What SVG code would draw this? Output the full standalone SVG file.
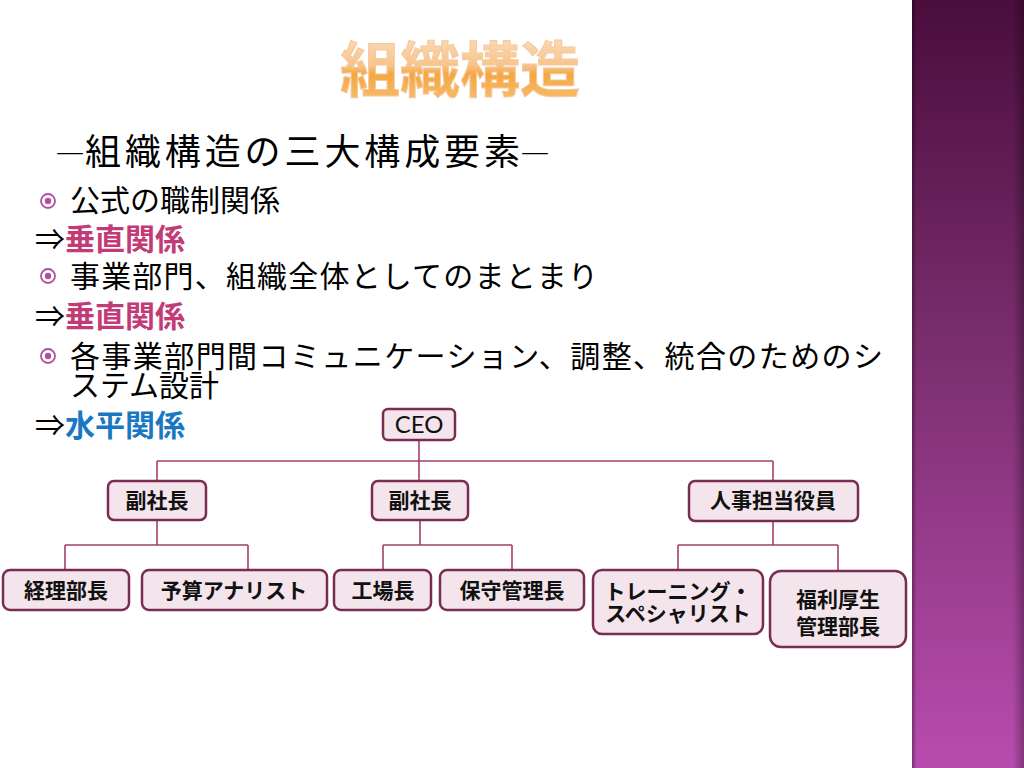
<svg xmlns="http://www.w3.org/2000/svg" width="1024" height="768" viewBox="0 0 1024 768">
<defs>
<linearGradient id="bar" x1="0" y1="0" x2="0" y2="1">
<stop offset="0" stop-color="#4a0d3c"/>
<stop offset="0.45" stop-color="#7a2e6e"/>
<stop offset="1" stop-color="#b84cae"/>
</linearGradient>
<linearGradient id="barEdge" x1="0" y1="0" x2="1" y2="0">
<stop offset="0" stop-color="#000" stop-opacity="0.35"/>
<stop offset="0.04" stop-color="#000" stop-opacity="0"/>
<stop offset="0.9" stop-color="#000" stop-opacity="0"/>
<stop offset="1" stop-color="#000" stop-opacity="0.3"/>
</linearGradient>
<linearGradient id="title" x1="0" y1="0" x2="0" y2="1">
<stop offset="0" stop-color="#fde6cf"/>
<stop offset="0.5" stop-color="#f8c48a"/>
<stop offset="0.6" stop-color="#f5a740"/>
<stop offset="1" stop-color="#f7c27c"/>
</linearGradient>
<style>
.jp{font-family:"Noto Sans CJK JP","Noto Sans",sans-serif;}
.body{font-size:30px;fill:#000;}
.em{font-size:30px;font-weight:bold;}
.box{fill:#f3e5eb;stroke:#7b2c52;stroke-width:2.5;}
.lbl{font-family:"Noto Sans CJK JP",sans-serif;font-size:21px;font-weight:bold;fill:#111;text-anchor:middle;}
.conn{fill:none;stroke:#a3416c;stroke-width:1.6;}
.bul{fill:none;stroke:#b34f9e;stroke-width:1.8;}
.bdot{fill:#b34f9e;}
</style>
</defs>
<rect width="1024" height="768" fill="#fff"/>
<g id="sidebar">
<rect x="912" y="0" width="112" height="768" fill="url(#bar)"/>
<rect x="912" y="0" width="112" height="768" fill="url(#barEdge)"/>
</g>
<text x="460" y="92" class="jp" font-size="60" font-weight="bold" text-anchor="middle" fill="url(#title)" stroke="#f3c9a0" stroke-width="1">組織構造</text>
<text y="165" class="jp" font-size="36" fill="#000"><tspan x="55" font-size="30">―</tspan><tspan x="85" textLength="435" lengthAdjust="spacing">組織構造の三大構成要素</tspan><tspan x="520" font-size="30">―</tspan></text>
<g id="bullets">
<circle cx="48" cy="201" r="7" class="bul"/><circle cx="48" cy="201" r="3.2" class="bdot"/>
<circle cx="48" cy="276" r="7" class="bul"/><circle cx="48" cy="276" r="3.2" class="bdot"/>
<circle cx="48" cy="356" r="7" class="bul"/><circle cx="48" cy="356" r="3.2" class="bdot"/>
</g>
<text x="70" y="211" class="jp body">公式の職制関係</text>
<text x="35" y="250" class="jp body">⇒<tspan class="em" fill="#c23b77">垂直関係</tspan></text>
<text x="70" y="287" class="jp body" textLength="528" lengthAdjust="spacing">事業部門、組織全体としてのまとまり</text>
<text x="35" y="327" class="jp body">⇒<tspan class="em" fill="#c23b77">垂直関係</tspan></text>
<text x="70" y="367" class="jp body" textLength="813" lengthAdjust="spacing">各事業部門間コミュニケーション、調整、統合のためのシ</text>
<text x="70" y="396" class="jp body">ステム設計</text>
<text x="35" y="436" class="jp body">⇒<tspan class="em" fill="#1a78c2">水平関係</tspan></text>
<g id="connectors">
<path class="conn" d="M419 440V461M157 461H773M157 461V482M419 461V482M773 461V482"/>
<path class="conn" d="M157 520V545M65 545H248M65 545V570M248 545V570"/>
<path class="conn" d="M420 520V545M383 545H512M383 545V570M512 545V570"/>
<path class="conn" d="M773 520V545M678 545H838M678 545V570M838 545V570"/>
</g>
<g id="ceo"><rect x="383" y="409" width="72" height="31" rx="5" class="box"/><text x="419" y="433" text-anchor="middle" font-family="Lato,'Open Sans',sans-serif" font-size="24" fill="#111">CEO</text></g>
<g id="vp1"><rect x="108" y="481" width="98" height="39" rx="6" class="box"/><text x="157" y="508" class="lbl">副社長</text></g>
<g id="vp2"><rect x="372" y="481" width="96" height="39" rx="6" class="box"/><text x="420" y="508" class="lbl">副社長</text></g>
<g id="hr"><rect x="689" y="481" width="169" height="40" rx="6" class="box"/><text x="773" y="508" class="lbl">人事担当役員</text></g>
<g id="keiri"><rect x="3" y="570" width="126" height="40" rx="7" class="box"/><text x="66" y="598" class="lbl">経理部長</text></g>
<g id="yosan"><rect x="142" y="570" width="185" height="40" rx="7" class="box"/><text x="234" y="598" class="lbl">予算アナリスト</text></g>
<g id="kojo"><rect x="334" y="570" width="97" height="40" rx="7" class="box"/><text x="383" y="598" class="lbl">工場長</text></g>
<g id="hoshu"><rect x="440" y="570" width="144" height="40" rx="7" class="box"/><text x="512" y="598" class="lbl">保守管理長</text></g>
<g id="training"><rect x="593" y="570" width="170" height="64" rx="9" class="box"/><text x="678" y="599" class="lbl" font-size="19">トレーニング・<tspan x="678" y="621">スペシャリスト</tspan></text></g>
<g id="fukuri"><rect x="770" y="571" width="136" height="76" rx="11" class="box"/><text x="838" y="607" class="lbl" font-size="22" font-weight="500">福利厚生<tspan x="838" y="634">管理部長</tspan></text></g>
</svg>
